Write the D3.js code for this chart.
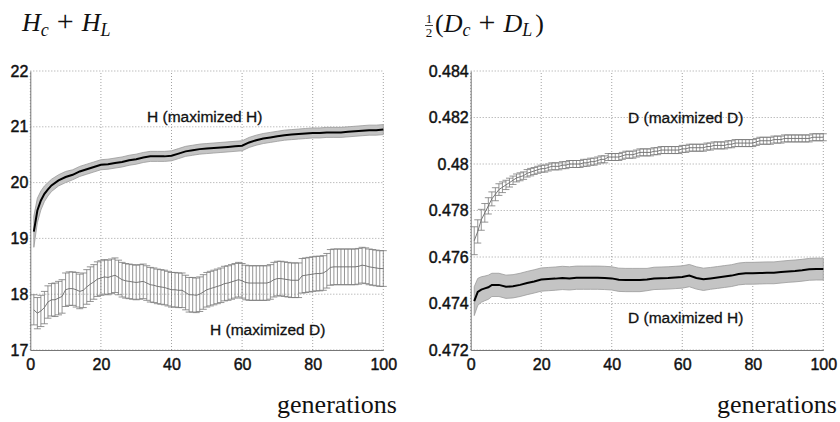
<!DOCTYPE html>
<html><head><meta charset="utf-8">
<script src="https://cdn.jsdelivr.net/npm/d3@7/dist/d3.min.js"></script>
<style>body{margin:0;background:#fff}svg{display:block}</style>
</head><body>
<svg id="c" width="840" height="422"></svg>
<script>
// ---------- DATA ----------
const xTicks = [0, 20, 40, 60, 80, 100];
const hTicks = [17, 18, 19, 20, 21, 22];
const dTicks = [0.472, 0.474, 0.476, 0.478, 0.48, 0.482, 0.484];
const dTickLabels = ["0.472", "0.474", "0.476", "0.478", "0.48", "0.482", "0.484"];

// band series sampled generations
const bandGen = [1,2,3,4,5,6,8,10,12,14,16,18,20,22,24,26,28,30,32,34,36,38,40,42,44,46,48,50,52,54,56,58,60,62,64,66,68,70,72,74,76,78,80,82,84,86,88,90,92,94,96,98,100];

// H (maximized H): mean and half-width of band
const hMaxH = [19.12,19.5,19.68,19.8,19.88,19.95,20.04,20.1,20.14,20.2,20.24,20.28,20.32,20.33,20.35,20.37,20.4,20.42,20.45,20.47,20.47,20.47,20.48,20.52,20.56,20.58,20.6,20.61,20.62,20.63,20.64,20.65,20.66,20.72,20.76,20.79,20.81,20.83,20.85,20.86,20.87,20.88,20.89,20.89,20.9,20.9,20.9,20.91,20.92,20.93,20.94,20.94,20.95];
const hMaxHErr = [0.28,0.22,0.17,0.14,0.12,0.11,0.1,0.1,0.09,0.09,0.09,0.09,0.09,0.09,0.09,0.09,0.09,0.09,0.09,0.09,0.09,0.09,0.09,0.09,0.09,0.09,0.09,0.09,0.09,0.09,0.09,0.09,0.09,0.09,0.09,0.09,0.09,0.09,0.09,0.09,0.09,0.09,0.09,0.09,0.09,0.09,0.09,0.09,0.09,0.09,0.09,0.09,0.09];

// D (maximized H): mean and half-width of band
const dMaxH = [0.4741,0.4745,0.4746,0.47465,0.4747,0.4748,0.4748,0.47472,0.47474,0.4748,0.47488,0.47495,0.47503,0.47505,0.47507,0.4751,0.47508,0.47511,0.47511,0.47511,0.47511,0.4751,0.47508,0.47502,0.47501,0.47501,0.47501,0.47503,0.47508,0.47509,0.4751,0.47512,0.47514,0.4752,0.4751,0.47504,0.47508,0.47512,0.47516,0.4752,0.47527,0.4753,0.4753,0.47531,0.47532,0.47532,0.47535,0.47538,0.4754,0.47543,0.47547,0.47548,0.47548];
const dMaxHErr = [0.00062,0.00058,0.00055,0.00053,0.00052,0.0005,0.0005,0.0005,0.0005,0.0005,0.0005,0.0005,0.0005,0.0005,0.0005,0.0005,0.0005,0.0005,0.0005,0.0005,0.0005,0.0005,0.0005,0.0005,0.0005,0.0005,0.0005,0.00048,0.00048,0.00048,0.00048,0.00048,0.00048,0.00048,0.00048,0.00048,0.00047,0.00047,0.00047,0.00047,0.00047,0.00047,0.00047,0.00047,0.00047,0.00047,0.00047,0.00047,0.00047,0.00047,0.00047,0.00047,0.00047];

// error-bar series: every generation 1..100
const gens = d3.range(1, 101);
const hMaxD = [17.72,17.66,17.70,17.76,17.86,17.90,17.90,17.93,17.96,18.08,18.10,18.10,18.08,18.05,18.07,18.13,18.18,18.22,18.27,18.29,18.31,18.30,18.32,18.34,18.30,18.26,18.24,18.23,18.22,18.21,18.22,18.23,18.20,18.17,18.16,18.14,18.13,18.12,18.10,18.08,18.08,18.07,18.07,18.03,17.99,17.99,17.98,18.00,18.04,18.08,18.10,18.12,18.14,18.16,18.19,18.20,18.22,18.24,18.26,18.24,18.21,18.20,18.20,18.20,18.20,18.20,18.20,18.22,18.26,18.28,18.28,18.27,18.26,18.25,18.25,18.25,18.33,18.34,18.35,18.36,18.37,18.37,18.38,18.42,18.48,18.49,18.49,18.49,18.49,18.49,18.49,18.49,18.50,18.52,18.51,18.49,18.48,18.47,18.46,18.46];
const hMaxDErr = [0.27,0.28,0.28,0.29,0.29,0.29,0.30,0.30,0.30,0.30,0.30,0.30,0.31,0.31,0.31,0.31,0.31,0.31,0.31,0.31,0.31,0.31,0.31,0.31,0.31,0.31,0.31,0.31,0.31,0.31,0.31,0.31,0.31,0.31,0.31,0.31,0.31,0.31,0.31,0.31,0.31,0.31,0.31,0.31,0.31,0.31,0.31,0.31,0.31,0.31,0.31,0.31,0.31,0.31,0.31,0.31,0.31,0.31,0.31,0.31,0.31,0.31,0.31,0.31,0.31,0.31,0.31,0.31,0.31,0.31,0.31,0.31,0.31,0.31,0.31,0.31,0.31,0.31,0.31,0.31,0.31,0.31,0.31,0.31,0.32,0.32,0.32,0.32,0.32,0.32,0.32,0.32,0.32,0.32,0.32,0.32,0.32,0.32,0.32,0.32];

const dMaxD = [0.4767,0.4771,0.4776,0.4779,0.4782,0.4785,0.4787,0.4789,0.4790,0.4791,0.4792,0.4793,0.4794,0.47945,0.4795,0.4796,0.47965,0.4797,0.47975,0.4798,0.4798,0.47985,0.4799,0.4799,0.4799,0.47995,0.47995,0.4800,0.4800,0.4800,0.4800,0.48005,0.48005,0.4801,0.4801,0.48015,0.4802,0.4802,0.4803,0.4803,0.4803,0.4803,0.48035,0.4804,0.4804,0.4804,0.48045,0.4805,0.4805,0.4805,0.4805,0.48055,0.48055,0.4806,0.4806,0.4806,0.4806,0.4806,0.4806,0.48065,0.48065,0.4807,0.4807,0.4807,0.4807,0.4807,0.48075,0.48075,0.4808,0.4808,0.4808,0.4808,0.48085,0.48085,0.4809,0.4809,0.4809,0.4809,0.4809,0.4809,0.48095,0.481,0.481,0.481,0.481,0.48105,0.48105,0.48105,0.4811,0.4811,0.4811,0.4811,0.4811,0.4811,0.4811,0.4811,0.48115,0.48115,0.48115,0.48115];
const dMaxDErr = [0.0006,0.0005,0.00045,0.0004,0.00035,0.0003,0.00028,0.00025,0.00023,0.0002,0.00019,0.00018,0.00017,0.00017,0.00016,0.00016,0.00016,0.00015,0.00015,0.00015,0.00015,0.00015,0.00015,0.00015,0.00015,0.00015,0.00015,0.00015,0.00015,0.00015,0.00015,0.00015,0.00015,0.00015,0.00015,0.00015,0.00015,0.00015,0.00015,0.00015,0.00015,0.00015,0.00015,0.00015,0.00015,0.00015,0.00015,0.00015,0.00015,0.00015,0.00015,0.00015,0.00015,0.00015,0.00015,0.00015,0.00015,0.00015,0.00015,0.00015,0.00015,0.00015,0.00015,0.00015,0.00015,0.00015,0.00015,0.00015,0.00015,0.00015,0.00015,0.00015,0.00015,0.00015,0.00015,0.00015,0.00015,0.00015,0.00015,0.00015,0.00015,0.00015,0.00015,0.00015,0.00015,0.00015,0.00015,0.00015,0.00015,0.00015,0.00015,0.00015,0.00015,0.00015,0.00015,0.00015,0.00015,0.00015,0.00015,0.00015];

// ---------- DRAW ----------
const svg = d3.select("#c");
const FONT = "'Liberation Sans', Arial, Helvetica, sans-serif";
const SERIF = "'Liberation Serif', 'Times New Roman', serif";

function panel(x0, x1, yDom, yTicks, yLabels) {
  const x = d3.scaleLinear().domain([0, 100]).range([x0, x1]);
  const y = d3.scaleLinear().domain(yDom).range([350, 71]);
  const g = svg.append("g");
  g.selectAll(".gx").data(xTicks).join("line")
    .attr("x1", d => x(d)).attr("x2", d => x(d)).attr("y1", y.range()[0]).attr("y2", y.range()[1])
    .attr("stroke", "#8a8a8a").attr("stroke-width", 0.8).attr("stroke-dasharray", "1,2");
  g.selectAll(".gy").data(yTicks).join("line")
    .attr("x1", x0).attr("x2", x1).attr("y1", d => y(d)).attr("y2", d => y(d))
    .attr("stroke", "#8a8a8a").attr("stroke-width", 0.8).attr("stroke-dasharray", "1,2");
  const ax = g.append("g").attr("transform", `translate(0,350)`)
    .call(d3.axisBottom(x).tickValues(xTicks).tickSize(0).tickPadding(9).tickFormat(d3.format("d")));
  const ay = g.append("g").attr("transform", `translate(${x0},0)`)
    .call(d3.axisLeft(y).tickValues(yTicks).tickSize(0).tickPadding(2).tickFormat((d, i) => yLabels[i]));
  [ax, ay].forEach(a => {
    a.select(".domain").attr("stroke", "#777").attr("stroke-width", 1);
    a.selectAll("text").attr("font-family", FONT).attr("font-size", 16).attr("fill", "#111")
      .attr("stroke", "#111").attr("stroke-width", 0.45);
  });
  ax.selectAll("text").attr("dy", "0.71em");
  return { x, y, g };
}

function band(p, gen, mean, err) {
  const pts = gen.map((d, i) => ({ x: d, m: mean[i], e: err[i] }));
  p.g.append("path").datum(pts)
    .attr("d", d3.area().x(d => p.x(d.x)).y0(d => p.y(d.m - d.e)).y1(d => p.y(d.m + d.e)))
    .attr("fill", "#c4c4c4").attr("stroke", "#9a9a9a").attr("stroke-width", 0.8);
  p.g.append("path").datum(pts)
    .attr("d", d3.line().x(d => p.x(d.x)).y(d => p.y(d.m)))
    .attr("fill", "none").attr("stroke", "#000").attr("stroke-width", 2);
}

function errbars(p, gen, mean, err, capHalf) {
  const pts = gen.map((d, i) => ({ x: d, m: mean[i], e: err[i] }));
  const eg = p.g.append("g").attr("stroke", "#7a7a7a").attr("stroke-width", 0.8).attr("fill", "none");
  eg.selectAll(".v").data(pts).join("line")
    .attr("x1", d => p.x(d.x)).attr("x2", d => p.x(d.x))
    .attr("y1", d => p.y(d.m - d.e)).attr("y2", d => p.y(d.m + d.e));
  eg.selectAll(".t").data(pts).join("line")
    .attr("x1", d => p.x(d.x) - capHalf).attr("x2", d => p.x(d.x) + capHalf)
    .attr("y1", d => p.y(d.m + d.e)).attr("y2", d => p.y(d.m + d.e));
  eg.selectAll(".b").data(pts).join("line")
    .attr("x1", d => p.x(d.x) - capHalf).attr("x2", d => p.x(d.x) + capHalf)
    .attr("y1", d => p.y(d.m - d.e)).attr("y2", d => p.y(d.m - d.e));
  p.g.append("path").datum(pts)
    .attr("d", d3.line().x(d => p.x(d.x)).y(d => p.y(d.m)))
    .attr("fill", "none").attr("stroke", "#6a6a6a").attr("stroke-width", 0.9);
}

const L = panel(30.3, 383.3, [17, 22], hTicks, hTicks.map(String));
const R = panel(470.7, 823.3, [0.472, 0.484], dTicks, dTickLabels);

errbars(L, gens, hMaxD, hMaxDErr, 3.5);
band(L, bandGen, hMaxH, hMaxHErr);
errbars(R, gens, dMaxD, dMaxDErr, 3.5);
band(R, bandGen, dMaxH, dMaxHErr);

function lab(x, y, t) {
  svg.append("text").attr("x", x).attr("y", y).text(t)
    .attr("font-family", FONT).attr("font-size", 15.5).attr("fill", "#111")
    .attr("stroke", "#111").attr("stroke-width", 0.3);
}
lab(147, 122, "H (maximized H)");
lab(210, 335, "H (maximized D)");
lab(628, 123, "D (maximized D)");
lab(628, 323, "D (maximized H)");

// titles (math)
function mathTitle(x, y, parts) {
  const t = svg.append("text").attr("x", x).attr("y", y)
    .attr("font-family", SERIF).attr("font-size", 26).attr("fill", "#111");
  parts.forEach(p => {
    const s = t.append("tspan").text(p.t);
    if (p.it) s.attr("font-style", "italic");
    if (p.sub) s.attr("font-size", 18).attr("dy", 4.5);
    if (p.up) s.attr("dy", -4.5);
    if (p.big) s.attr("font-size", 30);
    if (p.dx) s.attr("dx", p.dx);
  });
}
mathTitle(22, 31, [
  { t: "H", it: true }, { t: "c", it: true, sub: true },
  { t: "+", up: true, dx: 8, big: true }, { t: "H", it: true, dx: 8 }, { t: "L", it: true, sub: true }
]);

svg.append("text").attr("x", 429).attr("y", 23).attr("text-anchor", "middle")
  .attr("font-family", SERIF).attr("font-size", 13).attr("fill", "#111").text("1");
svg.append("line").attr("x1", 425).attr("x2", 433).attr("y1", 25.5).attr("y2", 25.5)
  .attr("stroke", "#111").attr("stroke-width", 0.8);
svg.append("text").attr("x", 429).attr("y", 37).attr("text-anchor", "middle")
  .attr("font-family", SERIF).attr("font-size", 13).attr("fill", "#111").text("2");
mathTitle(435, 31.5, [
  { t: "(" }, { t: "D", it: true }, { t: "c", it: true, sub: true },
  { t: "+", up: true, dx: 8, big: true }, { t: "D", it: true, dx: 8 }, { t: "L", it: true, sub: true },
  { t: ")", up: true, dx: 3 }
]);

[[277, "generations"], [717, "generations"]].forEach(([x, t]) => {
  svg.append("text").attr("x", x).attr("y", 413).text(t)
    .attr("font-family", SERIF).attr("font-size", 25).attr("fill", "#111")
    .attr("textLength", 120).attr("lengthAdjust", "spacingAndGlyphs");
});
</script>
</body></html>
